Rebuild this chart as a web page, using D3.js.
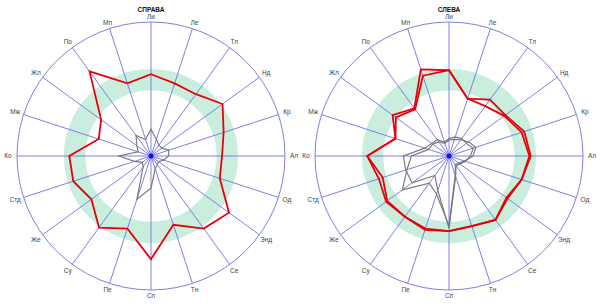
<!DOCTYPE html>
<html>
<head>
  <title>Радарные диаграммы</title>
  <script src="https://d3js.org/d3.v7.min.js"></script>
  <style>
    body { margin: 0; background: #fff; font-family: "Liberation Sans", Arial, sans-serif; }
    svg { display: block; }
  </style>
</head>
<body>
  <div id="chart"></div>
  <script>
    // axes, clockwise from the top
    let axes = ['Ли', 'Ле', 'Тл', 'Нд', 'Кр', 'Ал', 'Од', 'Энд', 'Се', 'Тн',
                'Сп', 'Пе', 'Су', 'Же', 'Стд', 'Ко', 'Мж', 'Жл', 'По', 'Мп'];

    let titles = ['СПРАВА', 'СЛЕВА'];

    // norm band (scale 0..100)
    let bandRange = [49, 65];

    // СПРАВА
    let rightRed = [61, 57, 57, 66, 57, 53, 54, 72, 67, 54, 77, 57, 66, 55, 61, 61, 41, 46, 78, 57];
    let rightGray = [20, 13, 10, 10, 14, 13, 10, 7, 8, 10, 24, 34, 10, 8, 13, 24, 10, 13, 19, 13];

    // СЛЕВА
    let leftRedA = [64, 45, 52, 52, 59, 61, 57, 54, 59, 55, 56, 58, 56, 58, 55, 61, 42, 52, 44, 68];
    let leftRedB = [64, 45, 46, 51, 57, 60, 57, 53, 59, 55, 56, 57, 56, 57, 52, 61, 42, 49, 43, 63];
    let leftGrayA = [13, 15, 16, 16, 19, 16, 13, 10, 9, 16, 54, 27, 18, 34, 34, 34, 19, 16, 15, 11];
    let leftGrayB = [12, 13, 15, 18, 21, 18, 12, 9, 8, 15, 52, 30, 25, 43, 33, 28, 16, 15, 13, 10];

    let panels = [
      { title: titles[0], cx: 151, red: [rightRed], gray: [rightGray] },
      { title: titles[1], cx: 449, red: [leftRedA, leftRedB], gray: [leftGrayA, leftGrayB] }
    ];

    let width = 600, height = 304;
    let cy = 156, radius = 134;

    let svg = d3.select('#chart').append('svg')
      .attr('width', width)
      .attr('height', height);

    let r = d3.scaleLinear().domain([0, 100]).range([0, radius]);
    let angle = d3.scaleLinear().domain([0, axes.length]).range([0, 2 * Math.PI]);

    let line = d3.lineRadial()
      .angle((d, i) => angle(i))
      .radius(d => r(d))
      .curve(d3.curveLinearClosed);

    // label distance: a bit more at the sides, where the text is wider
    let labelR = i => r(100) + 5.5 + 3.5 * Math.abs(Math.sin(angle(i)));

    panels.forEach(p => {
      let g = svg.append('g').attr('transform', 'translate(' + p.cx + ',' + cy + ')');

      // green band
      g.append('path')
        .attr('d', d3.arc()
          .innerRadius(r(bandRange[0]))
          .outerRadius(r(bandRange[1]))
          .startAngle(0)
          .endAngle(2 * Math.PI)())
        .attr('fill', '#c9eedd');

      // spokes
      g.selectAll('.spoke')
        .data(axes)
        .enter()
        .append('line')
        .attr('class', 'spoke')
        .attr('x1', 0).attr('y1', 0)
        .attr('x2', (d, i) => r(100) * Math.sin(angle(i)))
        .attr('y2', (d, i) => -r(100) * Math.cos(angle(i)))
        .attr('stroke', '#7f7fe0')
        .attr('stroke-width', 1);

      g.append('circle')
        .attr('r', r(100))
        .attr('fill', 'none')
        .attr('stroke', '#7f7fe0')
        .attr('stroke-width', 1);

      g.append('circle')
        .attr('r', 2.5)
        .attr('fill', '#1010ff');

      // labels
      g.selectAll('.lbl')
        .data(axes)
        .enter()
        .append('text')
        .attr('class', 'lbl')
        .attr('x', (d, i) => labelR(i) * Math.sin(angle(i)))
        .attr('y', (d, i) => -labelR(i) * Math.cos(angle(i)))
        .attr('dy', '0.35em')
        .attr('text-anchor', 'middle')
        .style('font-size', '6.5px')
        .attr('fill', '#444')
        .text(d => d);

      p.gray.forEach(s => {
        g.append('path')
          .attr('d', line(s))
          .attr('fill', 'none')
          .attr('stroke', '#7a7a7a')
          .attr('stroke-width', 1.2);
      });

      p.red.forEach(s => {
        g.append('path')
          .attr('d', line(s))
          .attr('fill', 'none')
          .attr('stroke', '#e8000b')
          .attr('stroke-width', 1.8);
      });

      svg.append('text')
        .attr('x', p.cx)
        .attr('y', 11.5)
        .attr('text-anchor', 'middle')
        .style('font-size', '6.5px')
        .style('font-weight', 'bold')
        .attr('fill', '#111')
        .text(p.title);
    });
  </script>
</body>
</html>
